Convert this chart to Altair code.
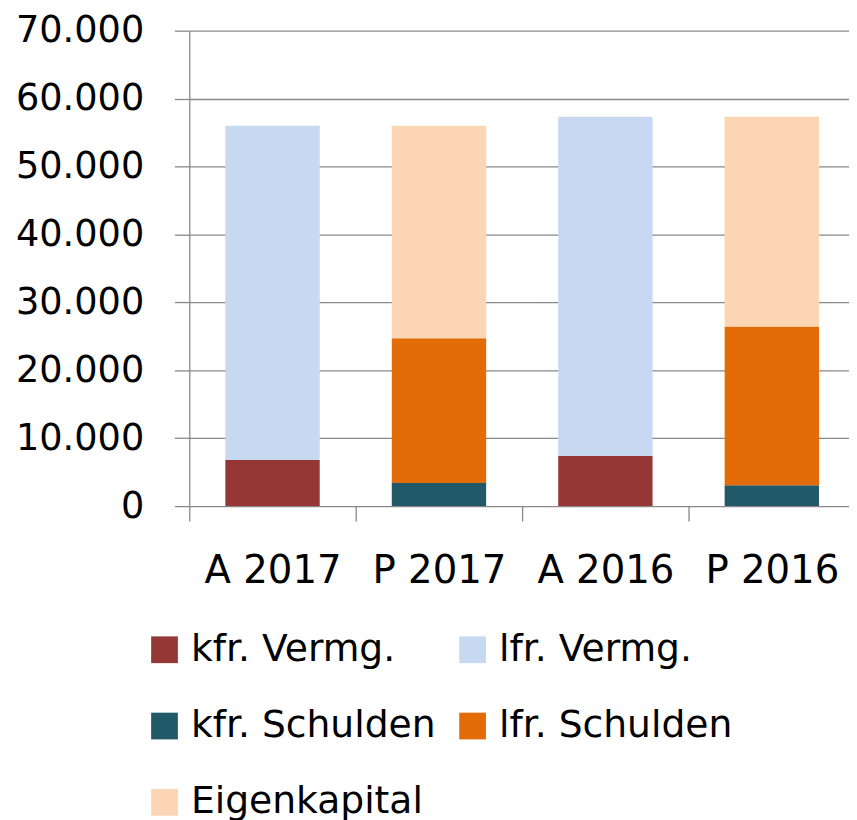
import altair as alt
import pandas as pd

categories = ["A 2017", "P 2017", "A 2016", "P 2016"]
series = ["kfr. Vermg.", "lfr. Vermg.", "kfr. Schulden", "lfr. Schulden", "Eigenkapital"]
colors = ["#953735", "#C6D9F1", "#215968", "#E36C09", "#FCD5B5"]

kfr_vermg = [6790, None, 7430, None]
lfr_vermg = [49210, None, 49890, None]
kfr_schulden = [None, 3390, None, 3090]
lfr_schulden = [None, 21340, None, 23340]
eigenkapital = [None, 31270, None, 30890]

y_ticks = [0, 10000, 20000, 30000, 40000, 50000, 60000, 70000]

rows = []
for s_idx, (name, vals) in enumerate(zip(series, [kfr_vermg, lfr_vermg, kfr_schulden, lfr_schulden, eigenkapital])):
    for cat, v in zip(categories, vals):
        if v is not None:
            rows.append({"Kategorie": cat, "Reihe": name, "Wert": v, "Ordnung": s_idx})
df = pd.DataFrame(rows)

GRID = "#888888"
FONT = "DejaVu Sans"

chart = alt.Chart(df).mark_bar().encode(
    x=alt.X(
        "Kategorie:N",
        sort=categories,
        scale=alt.Scale(paddingInner=0.433, paddingOuter=0.1985, align=0.546),
        axis=alt.Axis(
            title=None, labelAngle=0, tickOffset=-84, labelOffset=84, tickSize=15,
            tickColor=GRID, tickWidth=1.3, domain=False, grid=False,
            labelFont=FONT, labelFontSize=39, labelColor="black",
            labelPadding=31, labelLimit=400,
        ),
    ),
    y=alt.Y(
        "Wert:Q",
        stack="zero",
        scale=alt.Scale(domain=[0, 70000], nice=False),
        axis=alt.Axis(
            title=None, values=y_ticks,
            labelExpr="replace(format(datum.value, ','), ',', '.')",
            tickSize=15, tickColor=GRID, tickWidth=1.3,
            domainColor=GRID, domainWidth=1.3,
            grid=True, gridColor=GRID, gridWidth=1.3,
            labelFont=FONT, labelFontSize=37, labelColor="black",
            labelPadding=31, labelLimit=400,
        ),
    ),
    color=alt.Color(
        "Reihe:N",
        scale=alt.Scale(domain=series, range=colors),
        legend=alt.Legend(
            title=None, orient="none", legendX=-44, legendY=606, columns=2,
            direction="horizontal",
            symbolType="square", symbolSize=729, symbolStrokeWidth=0,
            labelFont=FONT, labelFontSize=38, labelColor="black",
            labelOffset=7.7, rowPadding=39, columnPadding=18,
            labelLimit=500, padding=0,
        ),
    ),
    order=alt.Order("Ordnung:Q", sort="ascending"),
).properties(
    width=666,
    height=480,
    autosize=alt.AutoSizeParams(type="none"),
    padding={"left": 183, "top": 19, "right": 0, "bottom": 313},
).configure_view(stroke=None)

chart.save("out.html", embed_options={"renderer": "svg", "actions": False})
